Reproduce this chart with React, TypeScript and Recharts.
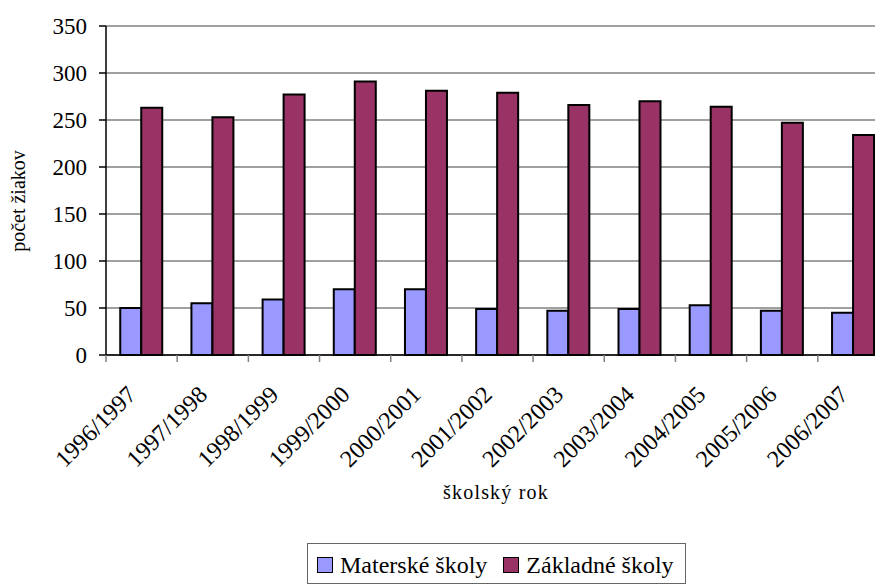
import { Bar, BarChart, CartesianGrid, XAxis, YAxis } from 'recharts';

const categories = [
  '1996/1997', '1997/1998', '1998/1999', '1999/2000', '2000/2001', '2001/2002',
  '2002/2003', '2003/2004', '2004/2005', '2005/2006', '2006/2007',
];
const materske = [50, 55, 59, 70, 70, 49, 47, 49, 53, 47, 45];
const zakladne = [263, 253, 277, 291, 281, 279, 266, 270, 264, 247, 234];
const yTicks = [0, 50, 100, 150, 200, 250, 300, 350];

const data = categories.map((rok, i) => ({ rok, materske: materske[i], zakladne: zakladne[i] }));

const FONT = 'Liberation Serif';
const BLUE = '#9999FF';
const WINE = '#993366';
const CHART_W = 900;
const PLOT_LEFT = 106;
const PLOT_RIGHT = 11;
const BAND = (CHART_W - PLOT_LEFT - PLOT_RIGHT) / categories.length;

function XTick(props: any) {
  const { x, y, payload } = props;
  const bx = x - BAND / 2;
  const tx = x - 4;
  const ty = y + 41;
  return (
    <g>
      <line x1={bx} x2={bx} y1={y} y2={y + 7} stroke="#808080" strokeWidth={1.5} />
      <text
        x={tx}
        y={ty}
        textAnchor="end"
        transform={`rotate(-45 ${tx} ${ty})`}
        fontFamily={FONT}
        fontSize={24}
        fill="#000"
      >
        {payload.value}
      </text>
    </g>
  );
}

function XTitle() {
  return (
    <text x={496} y={499} textAnchor="middle" fontFamily={FONT} fontSize={20} letterSpacing={1.2} fill="#000">
      školský rok
    </text>
  );
}

function YTitle() {
  return (
    <text
      x={25}
      y={201}
      textAnchor="middle"
      transform="rotate(-90 25 201)"
      fontFamily={FONT}
      fontSize={20}
      fill="#000"
    >
      počet žiakov
    </text>
  );
}

function LegendBox() {
  const item = (color: string, label: string, gap: number) => (
    <span style={{ display: 'inline-flex', alignItems: 'center', marginRight: gap }}>
      <span
        style={{
          display: 'inline-block',
          width: 16,
          height: 16,
          boxSizing: 'border-box',
          background: color,
          border: '1.5px solid #000',
          marginRight: 7,
        }}
      />
      {label}
    </span>
  );
  return (
    <div
      style={{
        position: 'absolute',
        left: 307,
        top: 543,
        width: 379,
        height: 41,
        border: '1px solid #666',
        boxSizing: 'border-box',
        display: 'flex',
        alignItems: 'center',
        paddingLeft: 9,
        paddingTop: 3,
        fontFamily: FONT,
        fontSize: 24,
        color: '#000',
        whiteSpace: 'nowrap',
      }}
    >
      {item(BLUE, 'Materské školy', 16)}
      {item(WINE, 'Základné školy', 0)}
    </div>
  );
}

export default function App() {
  return (
    <div
      style={{
        position: 'absolute',
        left: 0,
        top: 0,
        width: 875,
        height: 585,
        overflow: 'hidden',
        background: '#fff',
        fontFamily: FONT,
      }}
    >
      <BarChart
        width={CHART_W}
        height={585}
        data={data}
        margin={{ top: 26, right: PLOT_RIGHT, bottom: 0, left: 0 }}
        barCategoryGap="20%"
        barGap={0}
      >
        <CartesianGrid vertical={false} stroke="#808080" strokeWidth={1.5} />
        <XAxis
          dataKey="rok"
          height={230}
          interval={0}
          tickSize={0}
          tickMargin={0}
          tickLine={false}
          axisLine={{ stroke: '#000', strokeWidth: 1.5 }}
          tick={<XTick />}
          label={<XTitle />}
        />
        <YAxis
          width={PLOT_LEFT}
          domain={[0, 350]}
          ticks={yTicks}
          interval={0}
          tickSize={7}
          tickMargin={12}
          axisLine={{ stroke: '#000', strokeWidth: 1.5 }}
          tickLine={{ stroke: '#000', strokeWidth: 1.5 }}
          tick={{ fill: '#000', fontSize: 23, fontFamily: FONT }}
          label={<YTitle />}
        />
        <Bar dataKey="materske" fill={BLUE} stroke="#000" strokeWidth={2} isAnimationActive={false} />
        <Bar dataKey="zakladne" fill={WINE} stroke="#000" strokeWidth={2} isAnimationActive={false} />
      </BarChart>
      <LegendBox />
    </div>
  );
}
